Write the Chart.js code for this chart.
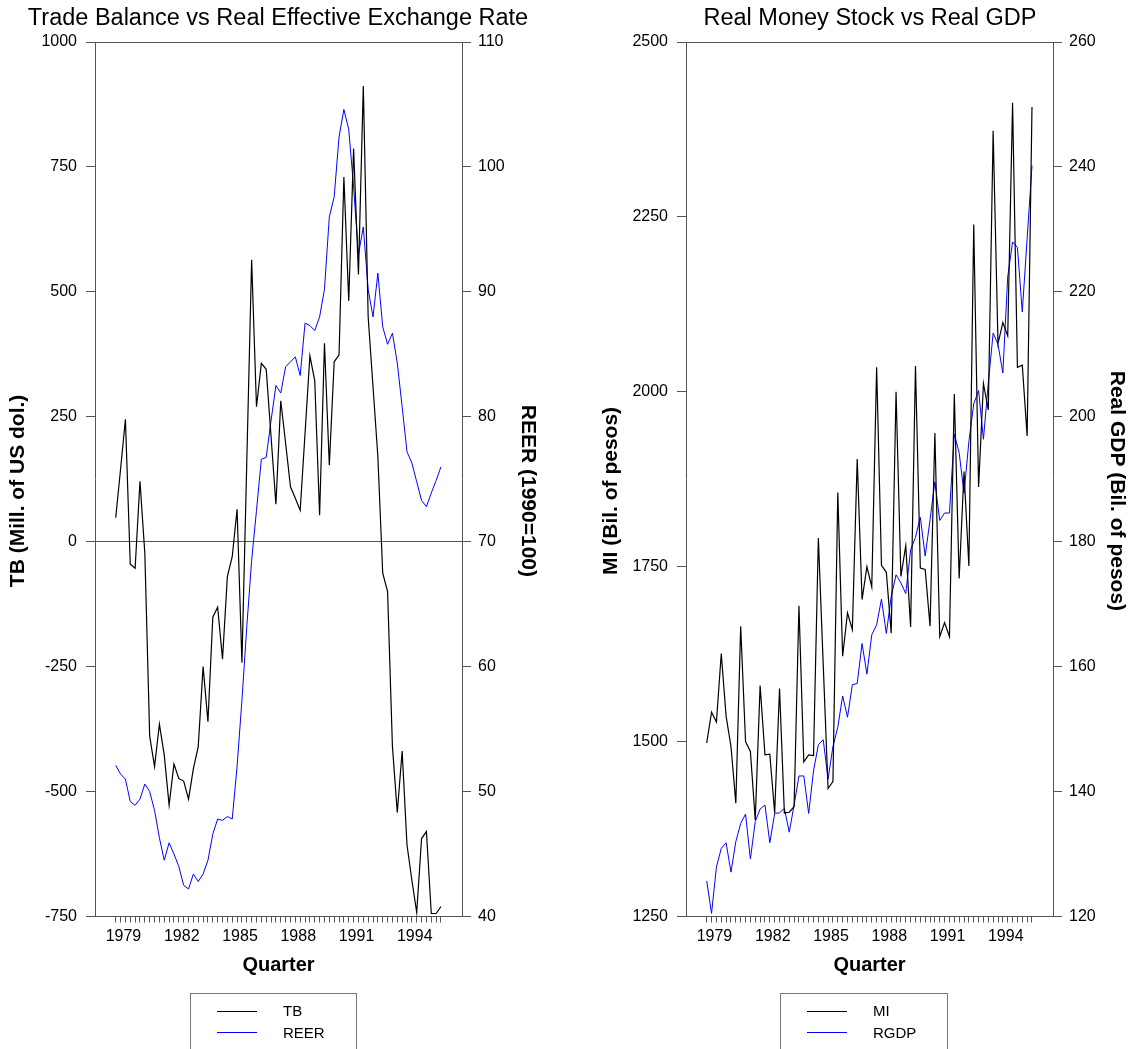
<!DOCTYPE html>
<html>
<head>
<meta charset="utf-8">
<title>Trade Balance, REER, Money Stock and GDP</title>
<script src="https://cdn.jsdelivr.net/npm/chart.js@4.4.1/dist/chart.umd.min.js"></script>
<style>
  body { margin: 0; background: #fff; font-family: "Liberation Sans", Arial, sans-serif; }
  #page { position: relative; width: 1129px; height: 1049px; overflow: hidden; }
  canvas { position: absolute; top: 0; }
  .title { position: absolute; top: 0; width: 600px; font-size: 23.5px; line-height: 35px; text-align: center; white-space: nowrap; }
  .legend { position: absolute; top: 993px; height: 80px; border: 1px solid #777; box-sizing: border-box; }
  .legend .swatch { position: absolute; left: 26px; width: 40px; height: 1px; background: #000; }
  .legend .swatch.blue { background: #0000ff; }
  .legend .name { position: absolute; left: 92px; font-size: 15px; line-height: 18px; }
</style>
</head>
<body>
<div id="page">
  <canvas id="leftChart" width="565" height="1049" style="left:0"></canvas>
  <canvas id="rightChart" width="564" height="1049" style="left:565px"></canvas>

  <div class="title" style="left:-22px">Trade Balance vs Real Effective Exchange Rate</div>
  <div class="title" style="left:570px">Real Money Stock vs Real GDP</div>

  <div class="legend" style="left:190px; width:167px">
    <div class="swatch" style="top:17px"></div><div class="name" style="top:8px">TB</div>
    <div class="swatch blue" style="top:38px"></div><div class="name" style="top:30px">REER</div>
  </div>
  <div class="legend" style="left:780px; width:168px">
    <div class="swatch" style="top:17px"></div><div class="name" style="top:8px">MI</div>
    <div class="swatch blue" style="top:38px"></div><div class="name" style="top:30px">RGDP</div>
  </div>
</div>

<script>
Chart.defaults.font.family = '"Liberation Sans", Arial, sans-serif';
Chart.defaults.color = '#000';

// quarterly series, 1979Q1 - 1995Q4
const startYear = 1979;
const yearLabels = [1979, 1982, 1985, 1988, 1991, 1994];

// Trade balance (mill. of US dol.)
const tb = [
  48, 145, 245, -45, -53, 121, -23, -389, -450, -365, -427, -527,
  -445, -474, -479, -515, -454, -410, -250, -360, -151, -131, -235, -70,
  -30, 65, -242, 160, 564, 270, 357, 345, 210, 75, 282, 197,
  110, 87, 63, 217, 372, 322, 53, 397, 153, 360, 374, 730,
  482, 787, 535, 912, 450, 310, 170, -63, -100, -410, -542, -419,
  -607, -677, -742, -594, -580, -744, -744, -730
];

// Real effective exchange rate (1990=100)
const reer = [
  52.1, 51.4, 51.0, 49.2, 48.9, 49.4, 50.6, 50.0, 48.5, 46.3, 44.5, 45.9,
  45.0, 44.0, 42.5, 42.2, 43.4, 42.8, 43.4, 44.5, 46.6, 47.8, 47.7, 48.0,
  47.8, 52.0, 57.3, 63.2, 68.5, 72.5, 76.6, 76.75, 79.7, 82.5, 81.9, 84.0,
  84.4, 84.8, 83.3, 87.5, 87.3, 86.9, 88.0, 90.2, 96.0, 97.6, 102.4, 104.6,
  103.0, 98.4, 93.0, 95.2, 90.2, 88.0, 91.5, 87.2, 85.8, 86.7, 84.3, 80.8,
  77.2, 76.3, 74.8, 73.3, 72.8, 73.9, 74.9, 76.0
];

// Real money stock M1 (bil. of pesos)
const mi = [
  1498, 1542, 1528, 1626, 1536, 1493, 1412, 1665, 1500, 1486, 1388, 1580,
  1481, 1482, 1398, 1576, 1398, 1399, 1407, 1694, 1471, 1481, 1480, 1791,
  1610, 1433, 1443, 1856, 1622, 1684, 1660, 1904, 1703, 1750, 1721, 2035,
  1752, 1742, 1655, 2000, 1736, 1780, 1664, 2037, 1748, 1746, 1665, 1941,
  1650, 1670, 1650, 1997, 1733, 1886, 1751, 2239, 1864, 2012, 1974, 2373,
  2069, 2099, 2080, 2413, 2035, 2038, 1937, 2407
];

// Real GDP (bil. of pesos)
const rgdp = [
  125.7, 120.5, 127.9, 130.9, 131.8, 127.1, 132.0, 134.9, 136.4, 129.2, 135.2, 137.2,
  137.85, 131.8, 136.5, 136.6, 137.3, 133.5, 137.85, 142.5, 142.5, 136.5, 143.3, 147.5,
  148.3, 142.0, 147.2, 150.3, 155.3, 151.9, 157.1, 157.3, 163.7, 158.8, 165.1, 166.7,
  170.8, 165.3, 171.2, 174.7, 173.4, 171.7, 178.7, 180.7, 183.9, 177.7, 183.5, 189.6,
  183.4, 184.6, 184.6, 197.2, 194.25, 187.75, 196.0, 202.05, 204.2, 196.4, 205.4, 213.4,
  211.6, 207.0, 222.4, 228.0, 227.1, 216.8, 228.5, 240.2
];

const quarterTime = tb.map((v, i) => startYear + i / 4);

const axisColor = '#555';
const xMin = 1977.934;
const xMax = 1996.832;

// one small tick per quarter, year labels sit in the middle of the year
const xTicks = quarterTime.map(t => ({ value: t }))
  .concat(yearLabels.map(y => ({ value: y + 0.4, yr: String(y) })))
  .sort((a, b) => a.value - b.value);

function toPoints(values) {
  return values.map((v, i) => ({ x: quarterTime[i], y: v }));
}

// the side titles sit a little below the middle of the axis, padded with spaces
function sideTitle(text, atEnd) {
  const pad = '\u00a0\u00a0\u00a0\u00a0';
  return atEnd ? text + pad : pad + text;
}

function makeChart(id, p) {
  return new Chart(document.getElementById(id), {
    type: 'line',
    data: {
      datasets: [
        {
          label: p.names[0],
          data: toPoints(p.leftData),
          yAxisID: 'y',
          borderColor: '#000',
          borderWidth: 1.2,
          pointRadius: 0,
          tension: 0
        },
        {
          label: p.names[1],
          data: toPoints(p.rightData),
          yAxisID: 'y1',
          borderColor: '#0000ff',
          borderWidth: 1,
          pointRadius: 0,
          tension: 0
        }
      ]
    },
    options: {
      responsive: false,
      animation: false,
      devicePixelRatio: 1,
      layout: { padding: { top: 42, left: 0, right: 0, bottom: 0 } },
      plugins: {
        legend: { display: false },
        tooltip: { enabled: false }
      },
      scales: {
        x: {
          type: 'linear',
          position: 'bottom',
          min: xMin,
          max: xMax,
          afterBuildTicks: s => { s.ticks = xTicks.map(t => ({ ...t })); },
          afterFit: s => { s.height = 132.5; },
          ticks: {
            autoSkip: false,
            maxRotation: 0,
            minRotation: 0,
            padding: 4,
            font: { size: 16 },
            callback: (v, i, ticks) => ticks[i].yr || ''
          },
          grid: {
            drawOnChartArea: false,
            tickLength: 6,
            tickColor: c => (c.tick && c.tick.yr) ? 'rgba(0,0,0,0)' : axisColor
          },
          border: { color: axisColor },
          title: {
            display: true,
            text: 'Quarter',
            font: { size: 20, weight: 'bold' },
            padding: { top: 0, bottom: 72 }
          }
        },
        xTop: {
          type: 'linear',
          position: 'top',
          min: xMin,
          max: xMax,
          afterFit: s => { s.height = 0; },
          ticks: { display: false },
          grid: { display: false },
          border: { color: axisColor }
        },
        y: {
          position: 'left',
          min: p.leftRange[0],
          max: p.leftRange[1],
          afterFit: s => { s.width = p.leftWidth; },
          ticks: { stepSize: p.leftStep, padding: 9, font: { size: 16 }, callback: v => String(v) },
          grid: {
            tickLength: 9,
            tickColor: axisColor,
            color: c => (p.zeroLine && c.tick && c.tick.value === 0) ? axisColor : 'rgba(0,0,0,0)'
          },
          border: { color: axisColor },
          title: {
            display: true,
            text: sideTitle(p.leftTitle, true),
            font: { size: 21, weight: 'bold' },
            padding: { top: p.leftTitlePad, bottom: 0 }
          }
        },
        y1: {
          position: 'right',
          min: p.rightRange[0],
          max: p.rightRange[1],
          afterFit: s => { s.width = p.rightWidth; },
          ticks: { stepSize: p.rightStep, padding: 7, font: { size: 16 }, callback: v => String(v) },
          grid: { drawOnChartArea: false, tickLength: 9, tickColor: axisColor },
          border: { color: axisColor },
          title: {
            display: true,
            text: sideTitle(p.rightTitle, false),
            font: { size: 21, weight: 'bold' },
            padding: { top: p.rightTitlePad, bottom: 0 }
          }
        }
      }
    }
  });
}

makeChart('leftChart', {
  names: ['TB', 'REER'],
  leftData: tb,
  rightData: reer,
  leftRange: [-750, 1000],
  leftStep: 250,
  rightRange: [40, 110],
  rightStep: 10,
  leftWidth: 95,
  rightWidth: 103,
  leftTitle: 'TB (Mill. of US dol.)',
  rightTitle: 'REER (1990=100)',
  leftTitlePad: 5.4,
  rightTitlePad: 24.4,
  zeroLine: true
});

makeChart('rightChart', {
  names: ['MI', 'RGDP'],
  leftData: mi,
  rightData: rgdp,
  leftRange: [1250, 2500],
  leftStep: 250,
  rightRange: [120, 260],
  rightStep: 20,
  leftWidth: 121,
  rightWidth: 76,
  leftTitle: 'MI (Bil. of pesos)',
  rightTitle: 'Real GDP (Bil. of pesos)',
  leftTitlePad: 33.4,
  rightTitlePad: 0,
  zeroLine: false
});
</script>
</body>
</html>
